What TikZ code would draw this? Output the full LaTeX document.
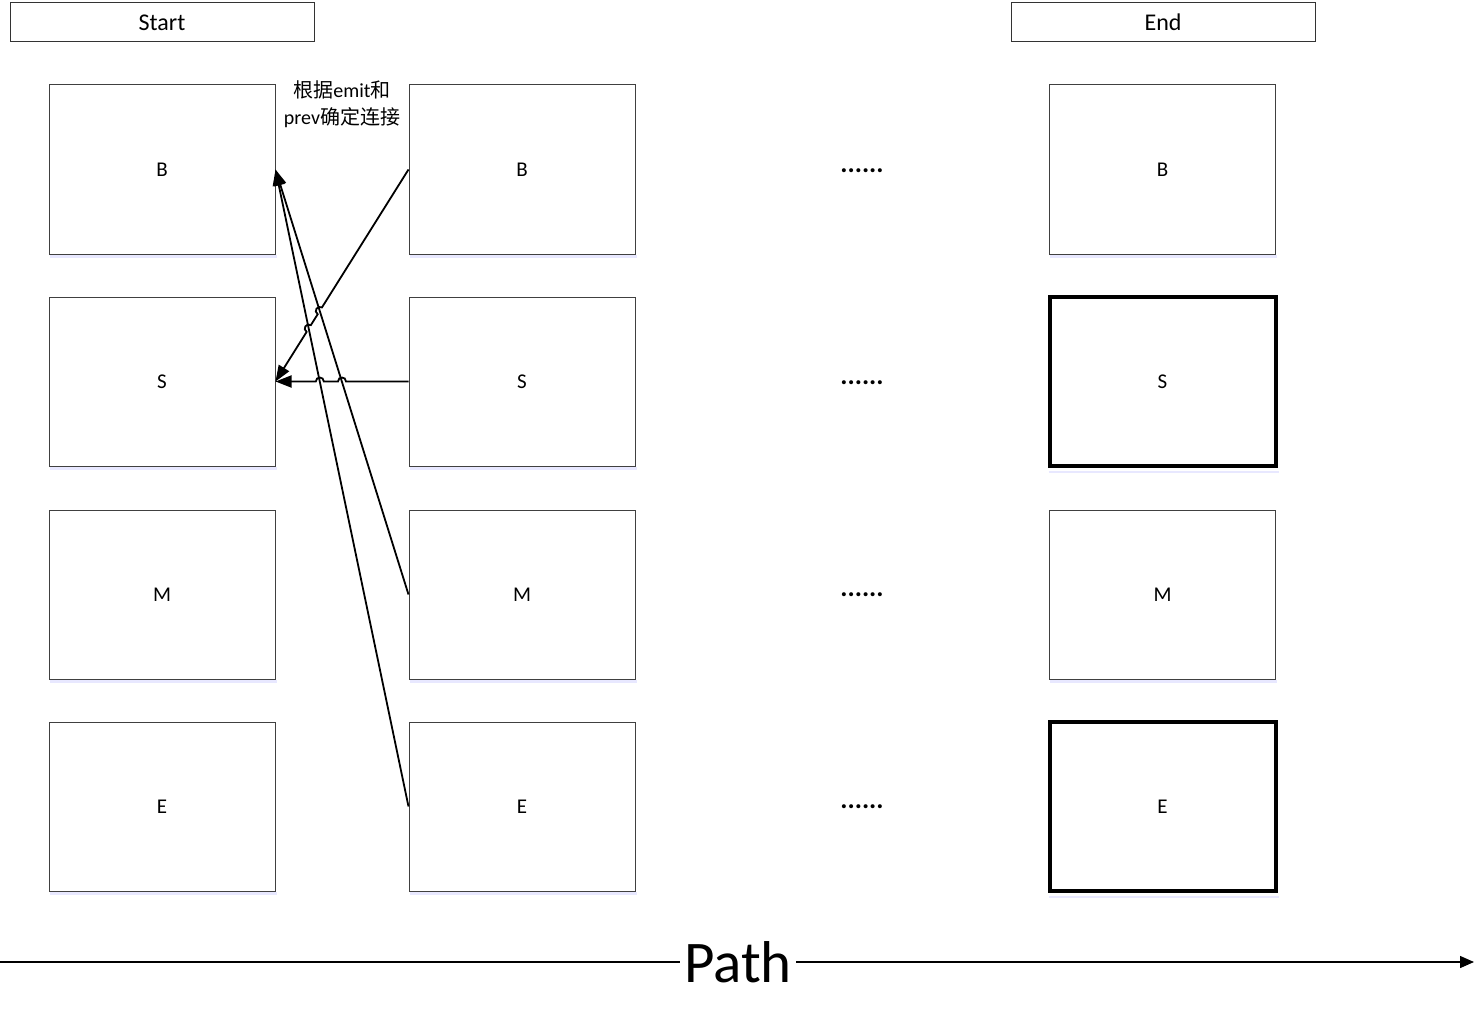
\documentclass[tikz,border=0pt]{standalone}
\usepackage{fontspec}
\setmainfont{Carlito}
\newfontfamily\cjk{Noto Sans CJK SC}
\usetikzlibrary{arrows.meta,calc}
\begin{document}
\begin{tikzpicture}[x=1pt,y=-1pt,
  cell/.style={draw=black!75,line width=1pt,minimum width=226pt,minimum height=169pt,inner sep=0pt,font=\fontsize{21}{24}\selectfont},
  endcell/.style={cell,draw=black,line width=4pt},
  shadowline/.style={draw=blue!9,line width=2.5pt},
  hdr/.style={draw=black!80,line width=1pt,minimum width=304pt,minimum height=39pt,inner sep=0pt,font=\fontsize{24}{27}\selectfont},
  dots/.style={font=\bfseries\fontsize{27}{29}\selectfont,inner sep=0pt},
  conn/.style={line width=1.8pt,-{Triangle[length=16pt,width=12pt]}},
  axis/.style={line width=1.3pt}]
\useasboundingbox (0,0) rectangle (1475,1027);
\fill[white] (0,0) rectangle (1475,1027);
% headers
\node[hdr] (start) at (162,22.5) {Start};
\node[hdr] (end) at (1163,22.5) {End};
% column 1
\node[cell] (b1) at (162,169.5) {B};
\node[cell] (s1) at (162,381.5) {S};
\node[cell] (m1) at (162,594.5) {M};
\node[cell] (e1) at (162,806.5) {E};
% column 2
\node[cell] (b2) at (522,169.5) {B};
\node[cell] (s2) at (522,381.5) {S};
\node[cell] (m2) at (522,594.5) {M};
\node[cell] (e2) at (522,806.5) {E};
% column 3
\node[cell] (b3) at (1162.5,169.5) {B};
\node[endcell] (s3) at (1162.5,381.5) {S};
\node[cell] (m3) at (1162.5,594.5) {M};
\node[endcell] (e3) at (1162.5,806.5) {E};
% soft shadows under the cells
\foreach \n in {b1,s1,m1,e1,b2,s2,m2,e2,b3,m3}
  \path[shadowline] ([xshift=1pt,yshift=-2pt]\n.south west) -- ([xshift=1pt,yshift=-2pt]\n.south east);
\foreach \n in {s3,e3}
  \path[shadowline] ([xshift=1pt,yshift=-4pt]\n.south west) -- ([xshift=1pt,yshift=-4pt]\n.south east);
% dots
\node[dots] (d1) at (862,171) {......};
\node[dots] (d2) at (862,383) {......};
\node[dots] (d3) at (862,595) {......};
\node[dots] (d4) at (862,807) {......};
% annotation
\node[align=center,font=\fontsize{20}{27}\selectfont,inner sep=0pt] (note) at (342,104.5) {{\cjk 根据}emit{\cjk 和}\\prev{\cjk 确定连接}};
% long connectors
\draw[conn] (m2.west) -- (b1.east);
\draw[conn] (e2.west) -- (b1.east);
% connector B2 -> S1 with jumps
\coordinate (j1) at ($(b2.west)!0.6667!(s1.east)$);
\coordinate (j2) at ($(b2.west)!0.75!(s1.east)$);
\coordinate (j1a) at ($(j1)!4pt!(b2.west)$);
\coordinate (j1b) at ($(j1)!4pt!(s1.east)$);
\coordinate (j2a) at ($(j2)!4pt!(b2.west)$);
\coordinate (j2b) at ($(j2)!4pt!(s1.east)$);
\draw[conn] (b2.west) -- (j1a)
  .. controls ($(j1a)!5.3pt!-90:(s1.east)$) and ($(j1b)!5.3pt!90:(j1a)$) .. (j1b)
  -- (j2a)
  .. controls ($(j2a)!5.3pt!-90:(s1.east)$) and ($(j2b)!5.3pt!90:(j2a)$) .. (j2b)
  -- (s1.east);
% connector S2 -> S1 with jumps
\coordinate (k1) at ($(s2.west)!0.5!(s1.east)$);
\coordinate (k2) at ($(s2.west)!0.6667!(s1.east)$);
\coordinate (k1a) at ($(k1)!4pt!(s2.west)$);
\coordinate (k1b) at ($(k1)!4pt!(s1.east)$);
\coordinate (k2a) at ($(k2)!4pt!(s2.west)$);
\coordinate (k2b) at ($(k2)!4pt!(s1.east)$);
\draw[conn] (s2.west) -- (k1a)
  .. controls ($(k1a)!5.3pt!-90:(s1.east)$) and ($(k1b)!5.3pt!90:(k1a)$) .. (k1b)
  -- (k2a)
  .. controls ($(k2a)!5.3pt!-90:(s1.east)$) and ($(k2b)!5.3pt!90:(k2a)$) .. (k2b)
  -- (s1.east);
% path axis
\node[font=\fontsize{59}{62}\selectfont,inner sep=4pt] (path) at (738,962) {Path};
\coordinate (axl) at (0,962);
\coordinate (axr) at (1474,962);
\draw[axis] (axl) -- (path.west);
\draw[axis,-{Triangle[length=14pt,width=12pt]}] (path.east) -- (axr);
\end{tikzpicture}
\end{document}
